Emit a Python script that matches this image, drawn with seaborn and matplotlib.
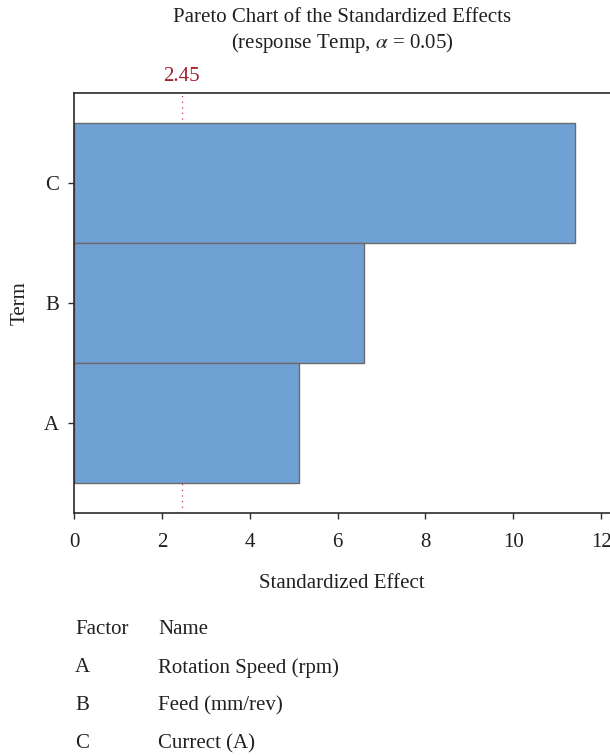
import matplotlib
matplotlib.use("Agg")
import matplotlib.pyplot as plt
import seaborn as sns
import pandas as pd

# Standardized effects per term
terms = ["C", "B", "A"]
effects = [11.40, 6.61, 5.12]
alpha_ref = 2.45
x_ticks = [0, 2, 4, 6, 8, 10, 12]

factor_codes = ["A", "B", "C"]
factor_names = ["Rotation Speed (rpm)", "Feed (mm/rev)", "Currect (A)"]

sns.set_theme(style="white")
plt.rcParams["font.family"] = ["Liberation Serif", "DejaVu Serif"]
plt.rcParams["mathtext.fontset"] = "stix"

FS = 15
TXT = "#231f20"

W, H = 610, 756
fig = plt.figure(figsize=(W / 100, H / 100), dpi=100)
ax = fig.add_axes([74 / W, (H - 513) / H, (610 - 74) / W, (513 - 93) / H])

df = pd.DataFrame({"Term": terms, "Effect": effects})
sns.barplot(data=df, x="Effect", y="Term", order=terms, orient="h",
            width=1.0, color="#6fa1d5", saturation=1, edgecolor="#6b6b6b",
            linewidth=1.0, ax=ax, zorder=2)

ax.axvline(alpha_ref, color="#d2384a", linestyle=(0, (1, 3.5)), lw=0.9, zorder=1)

ax.set_xlim(0, 12.2)
ax.set_ylim(2.75, -0.75)
ax.set_xticks(x_ticks)
ax.set_xticklabels([str(t) for t in x_ticks])

for side in ["left", "bottom", "top"]:
    ax.spines[side].set_visible(True)
    ax.spines[side].set_color("#2b2b2b")
    ax.spines[side].set_linewidth(1.2)
ax.spines["right"].set_visible(False)

ax.tick_params(axis="both", which="major", direction="out", length=4.5,
               width=1.0, color="#2b2b2b", labelsize=FS, labelcolor=TXT)
ax.tick_params(axis="x", pad=10, bottom=True)
ax.tick_params(axis="y", pad=6, left=True)

ax.set_xlabel("Standardized Effect", fontsize=FS, color=TXT)
ax.xaxis.set_label_coords(0.5, (513 - 583) / 420)
ax.xaxis.label.set_va("center")
ax.set_ylabel("Term", fontsize=FS, color=TXT)
ax.yaxis.set_label_coords((20 - 74) / 536, 0.5)
ax.yaxis.label.set_va("center")

ax.text(alpha_ref, 1.0 + 16 / 420, f"{alpha_ref:.2f}", transform=ax.get_xaxis_transform(),
        ha="center", va="center", fontsize=FS, color="#a3202e")

fig.text(342 / W, 1 - 17 / H, "Pareto Chart of the Standardized Effects",
         ha="center", va="center", fontsize=FS, color=TXT)
fig.text(342 / W, 1 - 43 / H, r"(response Temp, $\alpha$ = 0.05)",
         ha="center", va="center", fontsize=FS, color=TXT)

# Factor legend table below the chart
fig.text(75 / W, 1 - 630 / H, "Factor", ha="left", va="center",
         fontsize=FS, color=TXT)
fig.text(158 / W, 1 - 630 / H, "Name", ha="left", va="center",
         fontsize=FS, color=TXT)
for i, (code, name) in enumerate(zip(factor_codes, factor_names)):
    y = 1 - (668 + 38 * i) / H
    fig.text(75 / W, y, code, ha="left", va="center", fontsize=FS, color=TXT)
    fig.text(158 / W, y, name, ha="left", va="center", fontsize=FS, color=TXT)

fig.savefig("out.png", dpi=100)
